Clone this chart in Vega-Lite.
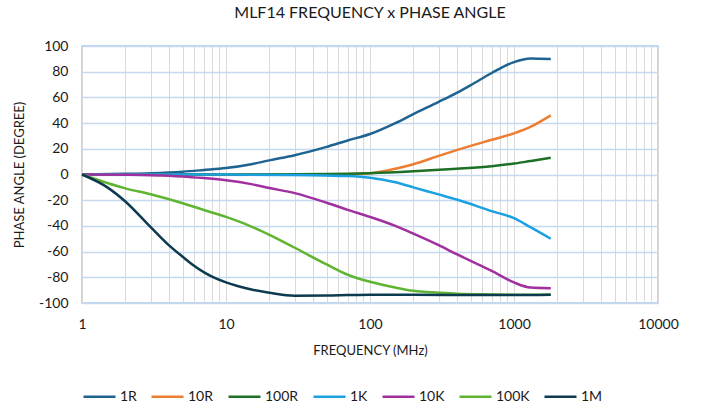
{
  "$schema": "https://vega.github.io/schema/vega-lite/v6.json",
  "width": 576,
  "height": 257,
  "autosize": "none",
  "padding": {"left": 82, "top": 46, "right": 43, "bottom": 103},
  "background": "white",
  "title": {
    "text": "MLF14 FREQUENCY x PHASE ANGLE",
    "font": "Lato",
    "fontSize": 16,
    "fontWeight": "normal",
    "color": "#1a1a1a",
    "anchor": "middle",
    "offset": 18
  },
  "config": {
    "font": "Lato",
    "view": {"stroke": "#a9c6ea", "strokeWidth": 1.5},
    "axis": {
      "labelFont": "Lato",
      "titleFont": "Lato",
      "labelColor": "#1a1a1a",
      "titleColor": "#1a1a1a",
      "titleFontWeight": "normal",
      "domain": false,
      "ticks": false
    }
  },
  "data": {
    "values": [
      {"series": "1R", "f": 1, "phase": 0},
      {"series": "1R", "f": 2, "phase": 0.5},
      {"series": "1R", "f": 3, "phase": 1},
      {"series": "1R", "f": 5, "phase": 2.2},
      {"series": "1R", "f": 7, "phase": 3.5},
      {"series": "1R", "f": 10, "phase": 5},
      {"series": "1R", "f": 15, "phase": 8},
      {"series": "1R", "f": 20, "phase": 11},
      {"series": "1R", "f": 30, "phase": 15},
      {"series": "1R", "f": 50, "phase": 21.5},
      {"series": "1R", "f": 70, "phase": 26.5},
      {"series": "1R", "f": 100, "phase": 31.5},
      {"series": "1R", "f": 150, "phase": 40},
      {"series": "1R", "f": 200, "phase": 47},
      {"series": "1R", "f": 300, "phase": 56.5},
      {"series": "1R", "f": 400, "phase": 63.5},
      {"series": "1R", "f": 500, "phase": 69.5},
      {"series": "1R", "f": 700, "phase": 79},
      {"series": "1R", "f": 1000, "phase": 87.5},
      {"series": "1R", "f": 1300, "phase": 90.3},
      {"series": "1R", "f": 1800, "phase": 89.8},

      {"series": "10R", "f": 1, "phase": 0},
      {"series": "10R", "f": 10, "phase": 0},
      {"series": "10R", "f": 50, "phase": 0},
      {"series": "10R", "f": 100, "phase": 1},
      {"series": "10R", "f": 150, "phase": 4.5},
      {"series": "10R", "f": 200, "phase": 8},
      {"series": "10R", "f": 300, "phase": 14.5},
      {"series": "10R", "f": 400, "phase": 19},
      {"series": "10R", "f": 700, "phase": 27},
      {"series": "10R", "f": 1000, "phase": 32},
      {"series": "10R", "f": 1300, "phase": 37},
      {"series": "10R", "f": 1800, "phase": 46},

      {"series": "100R", "f": 1, "phase": 0},
      {"series": "100R", "f": 10, "phase": 0},
      {"series": "100R", "f": 50, "phase": 0.3},
      {"series": "100R", "f": 100, "phase": 1},
      {"series": "100R", "f": 200, "phase": 2.5},
      {"series": "100R", "f": 400, "phase": 4.5},
      {"series": "100R", "f": 700, "phase": 6.5},
      {"series": "100R", "f": 1000, "phase": 8.5},
      {"series": "100R", "f": 1300, "phase": 10.5},
      {"series": "100R", "f": 1800, "phase": 13},

      {"series": "1K", "f": 1, "phase": 0},
      {"series": "1K", "f": 10, "phase": 0},
      {"series": "1K", "f": 30, "phase": -0.3},
      {"series": "1K", "f": 70, "phase": -1.2},
      {"series": "1K", "f": 100, "phase": -2.5},
      {"series": "1K", "f": 150, "phase": -6},
      {"series": "1K", "f": 200, "phase": -10},
      {"series": "1K", "f": 300, "phase": -15.5},
      {"series": "1K", "f": 400, "phase": -19.5},
      {"series": "1K", "f": 700, "phase": -28.5},
      {"series": "1K", "f": 1000, "phase": -34},
      {"series": "1K", "f": 1300, "phase": -41},
      {"series": "1K", "f": 1800, "phase": -50},

      {"series": "10K", "f": 1, "phase": 0},
      {"series": "10K", "f": 2, "phase": -0.2},
      {"series": "10K", "f": 3, "phase": -0.5},
      {"series": "10K", "f": 5, "phase": -1.5},
      {"series": "10K", "f": 7, "phase": -2.8},
      {"series": "10K", "f": 10, "phase": -4.5},
      {"series": "10K", "f": 15, "phase": -7.5},
      {"series": "10K", "f": 20, "phase": -10.5},
      {"series": "10K", "f": 30, "phase": -14.5},
      {"series": "10K", "f": 50, "phase": -22},
      {"series": "10K", "f": 70, "phase": -27.5},
      {"series": "10K", "f": 100, "phase": -33},
      {"series": "10K", "f": 150, "phase": -40},
      {"series": "10K", "f": 200, "phase": -46},
      {"series": "10K", "f": 300, "phase": -55},
      {"series": "10K", "f": 400, "phase": -62},
      {"series": "10K", "f": 700, "phase": -75},
      {"series": "10K", "f": 1000, "phase": -84},
      {"series": "10K", "f": 1300, "phase": -88},
      {"series": "10K", "f": 1800, "phase": -88.5},

      {"series": "100K", "f": 1, "phase": 0},
      {"series": "100K", "f": 2, "phase": -10.8},
      {"series": "100K", "f": 3, "phase": -15.4},
      {"series": "100K", "f": 5, "phase": -22.4},
      {"series": "100K", "f": 7, "phase": -27.6},
      {"series": "100K", "f": 10, "phase": -33},
      {"series": "100K", "f": 15, "phase": -40.5},
      {"series": "100K", "f": 20, "phase": -47},
      {"series": "100K", "f": 30, "phase": -57},
      {"series": "100K", "f": 50, "phase": -70},
      {"series": "100K", "f": 70, "phase": -78},
      {"series": "100K", "f": 100, "phase": -83.5},
      {"series": "100K", "f": 150, "phase": -88},
      {"series": "100K", "f": 200, "phase": -90.5},
      {"series": "100K", "f": 300, "phase": -92},
      {"series": "100K", "f": 400, "phase": -92.8},
      {"series": "100K", "f": 700, "phase": -93.3},
      {"series": "100K", "f": 1000, "phase": -93.5},
      {"series": "100K", "f": 1300, "phase": -93.5},
      {"series": "100K", "f": 1800, "phase": -93.3},

      {"series": "1M", "f": 1, "phase": 0},
      {"series": "1M", "f": 1.5, "phase": -10},
      {"series": "1M", "f": 2, "phase": -21},
      {"series": "1M", "f": 3, "phase": -41},
      {"series": "1M", "f": 4, "phase": -55},
      {"series": "1M", "f": 5, "phase": -64},
      {"series": "1M", "f": 6, "phase": -71},
      {"series": "1M", "f": 7, "phase": -76},
      {"series": "1M", "f": 8, "phase": -79.5},
      {"series": "1M", "f": 10, "phase": -84},
      {"series": "1M", "f": 15, "phase": -89.5},
      {"series": "1M", "f": 20, "phase": -92},
      {"series": "1M", "f": 30, "phase": -94.3},
      {"series": "1M", "f": 50, "phase": -94.2},
      {"series": "1M", "f": 70, "phase": -93.8},
      {"series": "1M", "f": 100, "phase": -93.5},
      {"series": "1M", "f": 200, "phase": -93.6},
      {"series": "1M", "f": 400, "phase": -93.8},
      {"series": "1M", "f": 700, "phase": -93.8},
      {"series": "1M", "f": 1000, "phase": -93.8},
      {"series": "1M", "f": 1800, "phase": -93.5}
    ]
  },
  "mark": {"type": "line", "interpolate": "monotone", "strokeWidth": 2.5},
  "encoding": {
    "x": {
      "field": "f",
      "type": "quantitative",
      "scale": {"type": "log", "domain": [1, 10000], "nice": false},
      "axis": {
        "title": "FREQUENCY (MHz)",
        "titleFontSize": 13,
        "titlePadding": 13,
        "labelFontSize": 14,
        "labelPadding": 14,
        "labelOverlap": false,
        "labelFlush": false,
        "values": [1, 2, 3, 4, 5, 6, 7, 8, 9, 10, 20, 30, 40, 50, 60, 70, 80, 90, 100, 200, 300, 400, 500, 600, 700, 800, 900, 1000, 2000, 3000, 4000, 5000, 6000, 7000, 8000, 9000, 10000],
        "labelExpr": "(datum.value == 1 || datum.value == 10 || datum.value == 100 || datum.value == 1000 || datum.value == 10000) ? '' + datum.value : ''",
        "gridColor": "#d9d9d9",
        "gridWidth": 1
      }
    },
    "y": {
      "field": "phase",
      "type": "quantitative",
      "scale": {"domain": [-100, 100], "nice": false},
      "axis": {
        "title": "PHASE ANGLE (DEGREE)",
        "titleFontSize": 13,
        "titlePadding": 12,
        "labelFontSize": 14,
        "labelPadding": 14,
        "values": [-100, -80, -60, -40, -20, 0, 20, 40, 60, 80, 100],
        "labelExpr": "'' + datum.value",
        "gridColor": "#c5d9f1",
        "gridWidth": 1.5
      }
    },
    "color": {
      "field": "series",
      "type": "nominal",
      "scale": {
        "domain": ["1R", "10R", "100R", "1K", "10K", "100K", "1M"],
        "range": ["#1f6391", "#ed7d31", "#1e7026", "#1ba1e2", "#a0309f", "#5fb532", "#0d3a4f"]
      },
      "legend": {
        "title": null,
        "orient": "none",
        "direction": "horizontal",
        "legendX": 0,
        "legendY": 333,
        "padding": 0,
        "symbolType": "stroke",
        "symbolSize": 1024,
        "symbolStrokeWidth": 2.5,
        "labelFont": "Lato",
        "labelFontSize": 14,
        "labelColor": "#1a1a1a",
        "labelOffset": 3,
        "columnPadding": 9
      }
    }
  }
}
